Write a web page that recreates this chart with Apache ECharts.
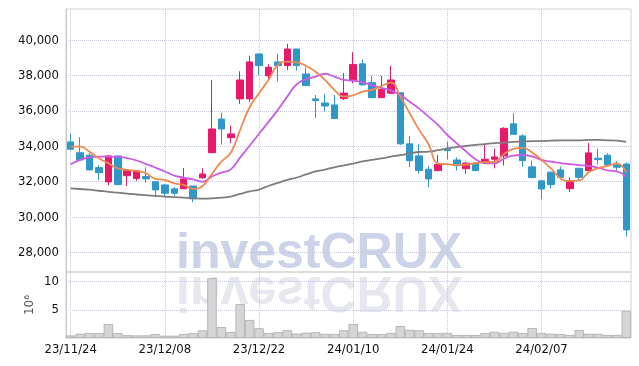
<!DOCTYPE html>
<html>
<head>
<meta charset="utf-8">
<script src="https://cdn.jsdelivr.net/npm/echarts@6/dist/echarts.min.js"></script>
<style>
html, body { margin: 0; padding: 0; background: #fff; }
#chart { width: 639px; height: 366px; }
</style>
</head>
<body>
<div id="chart"></div>
<script>
// 날짜 (거래일)
const dates = [
    '23/11/24', '23/11/27', '23/11/28', '23/11/29', '23/11/30', '23/12/01', '23/12/04', '23/12/05', '23/12/06', '23/12/07',
    '23/12/08', '23/12/11', '23/12/12', '23/12/13', '23/12/14', '23/12/15', '23/12/18', '23/12/19', '23/12/20', '23/12/21',
    '23/12/22', '23/12/26', '23/12/27', '23/12/28', '24/01/02', '24/01/03', '24/01/04', '24/01/05', '24/01/08', '24/01/09',
    '24/01/10', '24/01/11', '24/01/12', '24/01/15', '24/01/16', '24/01/17', '24/01/18', '24/01/19', '24/01/22', '24/01/23',
    '24/01/24', '24/01/25', '24/01/26', '24/01/29', '24/01/30', '24/01/31', '24/02/01', '24/02/02', '24/02/05', '24/02/06',
    '24/02/07', '24/02/08', '24/02/13', '24/02/14', '24/02/15', '24/02/16', '24/02/19', '24/02/20', '24/02/21', '24/02/22'
];

// 시가 / 종가 / 저가 / 고가
const openData = [
    34250, 33640, 33500, 32800, 31990, 33460, 32340, 32180, 32290, 32000,
    31820, 31600, 31600, 31760, 32220, 33640, 35540, 34490, 36680, 36680,
    39220, 37990, 38770, 38560, 39500, 38090, 36680, 36450, 36340, 36700,
    37710, 38660, 37600, 36750, 37000, 37030, 34140, 33460, 32710, 32630,
    33840, 33230, 32740, 33060, 33080, 33270, 33460, 35270, 34590, 32840,
    32050, 32540, 32670, 31610, 32760, 32630, 33330, 33500, 32950, 33000
];
const closeData = [
    33840, 33230, 32670, 32510, 33460, 31840, 32630, 32630, 32160, 31540,
    31350, 31350, 32160, 31030, 32440, 34980, 34980, 34700, 37750, 38770,
    38560, 38470, 38560, 39500, 38560, 37430, 36580, 36280, 35570, 37010,
    38620, 37470, 36750, 37230, 37750, 34140, 33190, 32630, 32160, 32970,
    33760, 32910, 33050, 32630, 33270, 33400, 35020, 34680, 33190, 32230,
    31590, 31840, 32250, 32060, 32250, 33630, 33250, 32950, 32820, 29280
];
const lowData = [
    33780, 33200, 32640, 32100, 31800, 31800, 31760, 32060, 31950, 31120,
    31200, 31200, 31590, 30840, 32170, 33620, 34100, 34180, 36400, 36510,
    38020, 37710, 37660, 38300, 38280, 37430, 35590, 35960, 35570, 36620,
    37570, 37470, 36750, 36750, 36980, 34080, 32820, 32440, 31690, 32600,
    33270, 32630, 32440, 32600, 33050, 32760, 32910, 34680, 32850, 32230,
    31030, 31610, 32250, 31420, 32060, 32630, 32970, 32890, 32630, 28900
];
const highData = [
    34700, 34510, 33610, 32930, 33480, 33470, 32650, 32650, 32820, 32000,
    31850, 31690, 32780, 31760, 32760, 37750, 35900, 35170, 38240, 39120,
    39230, 38640, 39220, 39790, 39500, 38470, 36900, 36940, 36900, 38150,
    39320, 38920, 37990, 37980, 38560, 37030, 34590, 34120, 32890, 33530,
    34270, 33380, 33120, 33100, 34140, 33870, 35080, 35870, 34680, 33190,
    32050, 32570, 32850, 32250, 32760, 34180, 33870, 33610, 33160, 33100
];

// 이동평균선
const ma5 = [
    33980, 33980, 33700, 33330, 33040, 32760, 32670, 32610, 32480, 32160,
    32100, 31910, 31820, 31600, 31760, 32450, 33140, 33640, 34930, 36210,
    37000, 37750, 38600, 38790, 38750, 38540, 38220, 37750, 37190, 36810,
    36880, 37090, 37190, 37410, 37600, 36810, 35870, 34930, 34120, 33040,
    32990, 32950, 32970, 33040, 33110, 33120, 33560, 33850, 33910, 33650,
    33230, 32760, 32200, 32045, 32080, 32540, 32760, 32890, 33040, 32520
];
const ma20 = [
    32990, 33230, 33380, 33420, 33420, 33400, 33340, 33200, 33000, 32800,
    32580, 32350, 32230, 32130, 32000, 32300, 32510, 32700, 33380, 34030,
    34710, 35380, 36060, 36810, 37510, 37790, 37940, 38090, 37940, 37750,
    37710, 37620, 37450, 37300, 37160, 36900, 36520, 36130, 35680, 35210,
    34640, 34170, 33700, 33270, 33040, 33040, 33300, 33480, 33510, 33430,
    33230, 33140, 33060, 32990, 32940, 32900, 32800, 32640, 32580, 32290
];
const ma60 = [
    31630, 31590, 31550, 31490, 31430, 31380, 31330, 31280, 31240, 31200,
    31160, 31130, 31100, 31070, 31050, 31060, 31100, 31160, 31310, 31450,
    31560, 31760, 31930, 32100, 32240, 32410, 32580, 32690, 32810, 32920,
    33030, 33150, 33230, 33320, 33420, 33500, 33600, 33680, 33700, 33780,
    33880, 33950, 34020, 34080, 34130, 34180, 34210, 34250, 34270, 34290,
    34300, 34320, 34340, 34340, 34340, 34360, 34360, 34340, 34320, 34250
];

// 거래량 (백만 주)
const volume = [
    0.45, 0.76, 0.88, 0.88, 2.47, 0.88, 0.5, 0.46, 0.46, 0.7,
    0.41, 0.41, 0.7, 0.88, 1.34, 10.6, 1.94, 1.06, 6.0, 3.2,
    1.73, 0.88, 1.03, 1.37, 0.79, 0.94, 1.03, 0.73, 0.73, 1.37,
    2.47, 1.1, 0.7, 0.7, 0.88, 2.1, 1.44, 1.37, 0.88, 0.88,
    0.88, 0.53, 0.53, 0.53, 0.88, 1.11, 0.88, 1.11, 0.88, 1.76,
    0.88, 0.76, 0.7, 0.53, 1.41, 0.76, 0.76, 0.53, 0.55, 4.82
];

const candles = dates.map((d, i) => [openData[i], closeData[i], lowData[i], highData[i]]);

const chart = echarts.init(document.getElementById('chart'));

const labelFont = {
    fontFamily: "'DejaVu Sans Condensed', 'Liberation Sans Narrow', 'Roboto', sans-serif",
    fontSize: 13,
    color: '#111'
};
const gridDots = { type: 'dotted', color: '#c4c8da', width: 1 };

chart.setOption({
    animation: false,
    backgroundColor: '#fff',
    graphic: [
        {
            type: 'text', x: 176, y: 254, z: -10, silent: true,
            style: {
                text: 'investCRUX', font: 'bold 50px "Liberation Sans"',
                fill: '#ccd2e8', align: 'left', verticalAlign: 'middle'
            }
        },
        {
            type: 'text', x: 176, y: 291, scaleY: -1, z: -10, silent: true,
            style: {
                text: 'investCRUX', font: 'bold 50px "Liberation Sans"',
                fill: '#e6e7ef', align: 'left', verticalAlign: 'middle'
            }
        }
    ],
    grid: [
        { left: 66, right: 8, top: 9, height: 263, show: true, borderColor: '#d2d2d2', borderWidth: 1, backgroundColor: 'transparent' },
        { left: 66, right: 8, top: 272, height: 66, show: true, borderColor: '#d2d2d2', borderWidth: 1, backgroundColor: 'transparent' }
    ],
    xAxis: [
        {
            type: 'category', gridIndex: 0, data: dates, boundaryGap: true,
            axisLine: { show: false }, axisTick: { show: false }, axisLabel: { show: false },
            splitLine: { show: true, interval: 9, alignWithLabel: true, lineStyle: gridDots }
        },
        {
            type: 'category', gridIndex: 1, data: dates, boundaryGap: true,
            axisLine: { show: false }, axisTick: { show: false },
            axisLabel: Object.assign({ interval: 9, margin: 5 }, labelFont),
            splitLine: { show: true, interval: 9, alignWithLabel: true, lineStyle: gridDots }
        }
    ],
    yAxis: [
        {
            type: 'value', gridIndex: 0, min: 26900, max: 41760,
            minInterval: 2000, maxInterval: 2000,
            axisLine: { show: true, lineStyle: { color: '#c8c8c8' } },
            axisTick: { show: false },
            axisLabel: Object.assign({
                margin: 7, showMinLabel: false, showMaxLabel: false, padding: [3, 0, 0, 0],
                formatter: v => v.toLocaleString('en-US')
            }, labelFont),
            splitLine: { show: true, showMinLine: false, showMaxLine: false, lineStyle: gridDots }
        },
        {
            type: 'value', gridIndex: 1, min: 0, max: 11.7,
            minInterval: 5, maxInterval: 5,
            name: '10\u2076', nameLocation: 'middle', nameGap: 30, nameRotate: 90,
            nameMoveOverlap: false,
            nameTextStyle: { fontFamily: 'DejaVu Sans', fontSize: 12, color: '#555' },
            axisLine: { show: true, lineStyle: { color: '#c8c8c8' } },
            axisTick: { show: false },
            axisLabel: Object.assign({
                margin: 7, showMinLabel: false, showMaxLabel: false, padding: [3, 0, 0, 0]
            }, labelFont),
            splitLine: { show: true, showMinLine: false, showMaxLine: false, lineStyle: gridDots }
        }
    ],
    series: [
        {
            name: 'Volume', type: 'bar', xAxisIndex: 1, yAxisIndex: 1,
            data: volume, barWidth: '100%', barCategoryGap: 0,
            itemStyle: { color: '#d5d5d7', borderColor: '#ababab', borderWidth: 0.8 }
        },
        {
            name: 'Price', type: 'candlestick', xAxisIndex: 0, yAxisIndex: 0,
            data: candles, barWidth: 7,
            itemStyle: {
                color: '#e8196b', color0: '#2f98c9',
                borderColor: '#e8196b', borderColor0: '#2f98c9', borderWidth: 1
            }
        },
        {
            name: 'MA60', type: 'line', data: ma60, smooth: true, showSymbol: false,
            lineStyle: { color: '#7d7d7d', width: 1.8 }
        },
        {
            name: 'MA20', type: 'line', data: ma20, smooth: true, showSymbol: false,
            lineStyle: { color: '#c85ce6', width: 1.8 }
        },
        {
            name: 'MA5', type: 'line', data: ma5, smooth: true, showSymbol: false,
            lineStyle: { color: '#ef8a4c', width: 1.8 }
        }
    ]
});

window.addEventListener('resize', () => {
    chart.resize();
});
</script>
</body>
</html>
